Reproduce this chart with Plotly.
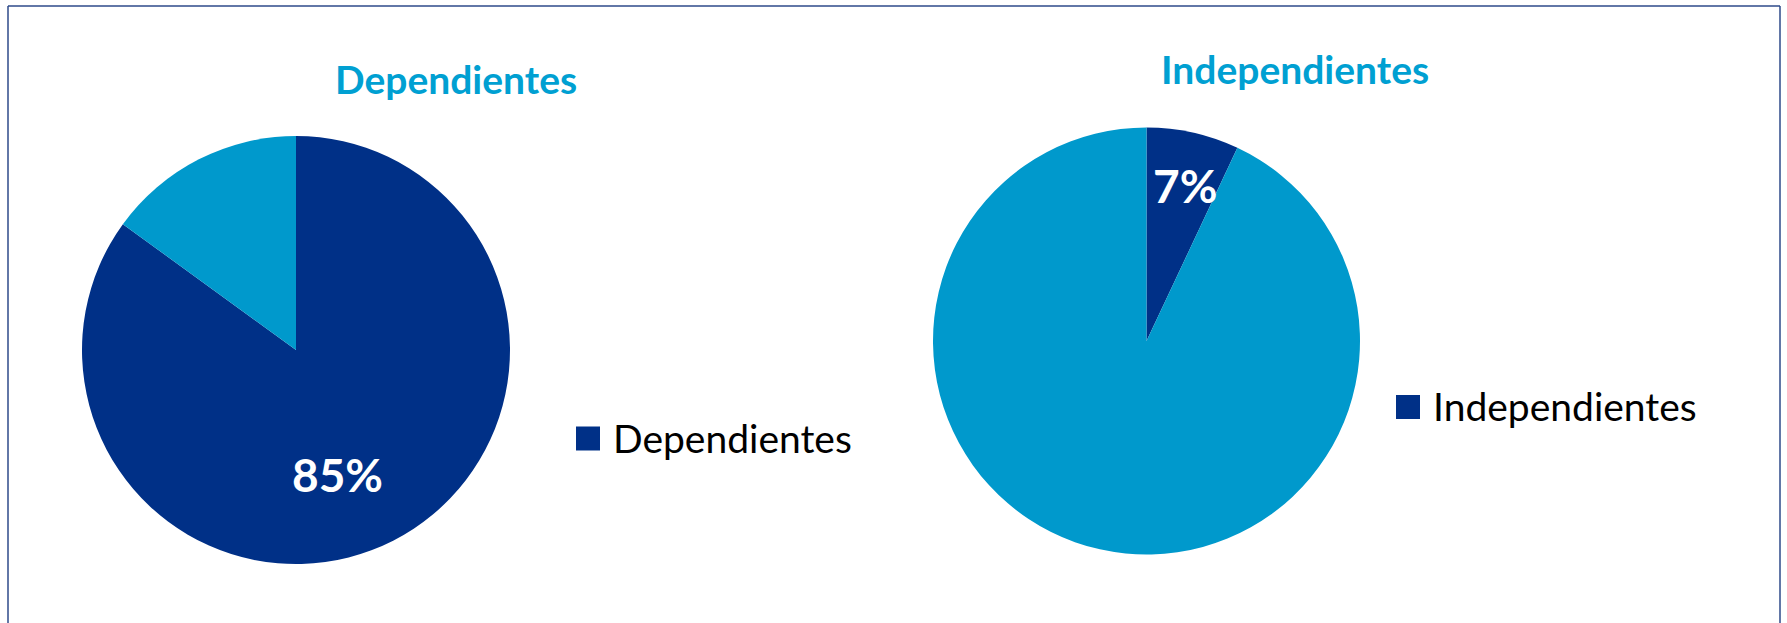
import math
import plotly.graph_objects as go

# ---------------- data ----------------
pie_titles = ["Dependientes", "Independientes"]
dep_labels = ["Dependientes", "Otros"]
dep_values = [85, 15]
ind_labels = ["Independientes", "Otros"]
ind_values = [7, 93]
legend_labels = ["Dependientes", "Independientes"]

# ---------------- style / layout ----------------
W, H = 1787, 623
DARK = "#003087"
LIGHT = "#0099CC"
TITLE_COLOR = "#00A0D2"
FRAME_COLOR = "#2E4A8A"
FONT = "Lato"

# pie geometry in pixels: (cx, cy, r)
PIES = [(296, 350, 214), (1146.5, 341, 213.5)]
TITLE_POS = [(456, 79), (1295, 69)]
LEGEND_POS = [(588, 438.5), (1408, 407)]     # square centres
LEGEND_SQ = 24
LABEL_RADIUS = [0.614, 0.75]
LABEL_NUDGE_DEG = [8.4, 1.3]


def px_to_paper(x, y):
    return x / W, 1 - y / H


fig = go.Figure()

series = [(dep_labels, dep_values), (ind_labels, ind_values)]
annotations = []
shapes = []

for i, ((labels, values), (cx, cy, r)) in enumerate(zip(series, PIES)):
    fig.add_trace(go.Pie(
        labels=labels,
        values=values,
        sort=False,
        direction="clockwise",
        rotation=0,
        marker=dict(colors=[DARK, LIGHT], line=dict(width=0)),
        textinfo="none",
        hoverinfo="label+percent",
        showlegend=False,
        domain=dict(x=[(cx - r) / W, (cx + r) / W],
                    y=[1 - (cy + r) / H, 1 - (cy - r) / H]),
    ))

    # percentage label for the first (dark) slice
    total = sum(values)
    pct = values[0] / total
    ang = math.radians(360 * pct / 2 + LABEL_NUDGE_DEG[i])
    lr = LABEL_RADIUS[i] * r
    lx = cx + lr * math.sin(ang)
    ly = cy - lr * math.cos(ang)
    ax, ay = px_to_paper(lx, ly)
    annotations.append(dict(
        x=ax, y=ay, xref="paper", yref="paper", showarrow=False,
        text=f"<b>{round(pct * 100)}%</b>",
        font=dict(family=FONT, size=46, color="white"),
        xanchor="center", yanchor="middle",
    ))

    # title
    tx, ty = px_to_paper(*TITLE_POS[i])
    annotations.append(dict(
        x=tx, y=ty, xref="paper", yref="paper", showarrow=False,
        text=f"<b>{pie_titles[i]}</b>",
        font=dict(family=FONT, size=39, color=TITLE_COLOR),
        xanchor="center", yanchor="middle",
    ))

    # legend (square + text)
    sx, sy = LEGEND_POS[i]
    h = LEGEND_SQ / 2
    shapes.append(dict(
        type="rect", xref="paper", yref="paper",
        x0=(sx - h) / W, x1=(sx + h) / W,
        y0=1 - (sy + h) / H, y1=1 - (sy - h) / H,
        fillcolor=DARK, line=dict(width=0),
    ))
    lgx, lgy = px_to_paper(sx + h + 11, sy - 1)
    annotations.append(dict(
        x=lgx, y=lgy, xref="paper", yref="paper", showarrow=False,
        text=legend_labels[i],
        font=dict(family=FONT, size=39, color="#000000"),
        xanchor="left", yanchor="middle",
    ))

# frame (left, top, right; bottom runs off the picture)
fx0, fx1, fy1 = 8 / W, 1780 / W, 1 - 6 / H
for x0, y0, x1, y1 in [(fx0, -0.2, fx0, fy1), (fx0, fy1, fx1, fy1), (fx1, fy1, fx1, -0.2)]:
    shapes.append(dict(type="line", xref="paper", yref="paper",
                       x0=x0, y0=y0, x1=x1, y1=y1,
                       line=dict(color=FRAME_COLOR, width=1.5)))

fig.update_layout(
    width=W, height=H,
    margin=dict(l=0, r=0, t=0, b=0),
    paper_bgcolor="white",
    plot_bgcolor="white",
    annotations=annotations,
    shapes=shapes,
    font=dict(family=FONT),
)

fig.write_html("out.html", config={"displayModeBar": False},
               post_script="document.body.style.margin='0';")
